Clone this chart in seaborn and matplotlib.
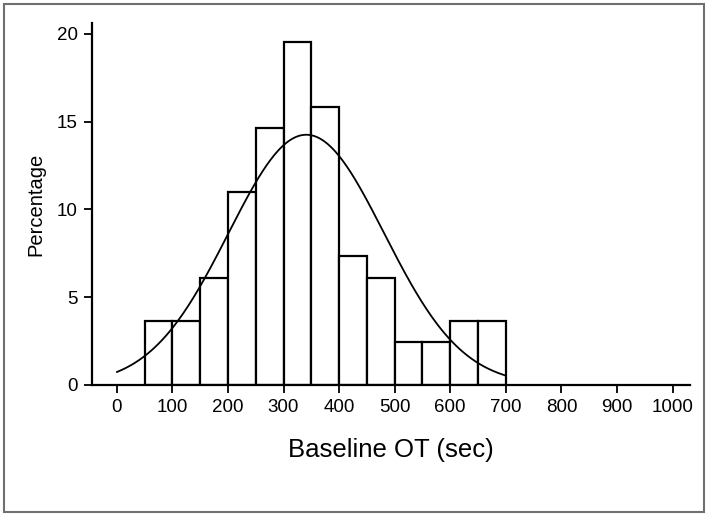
import numpy as np
import pandas as pd
import matplotlib
matplotlib.use("Agg")
import matplotlib.pyplot as plt
import seaborn as sns
from matplotlib.patches import Rectangle

# Histogram data (percentage of subjects per 50-sec bin)
bin_starts = [50, 100, 150, 200, 250, 300, 350, 400, 450, 500, 550, 600, 650]
percentages = [3.66, 3.66, 6.10, 10.98, 14.63, 19.51, 15.85, 7.32, 6.10, 2.44, 2.44, 3.66, 3.66]
bin_width = 50

# Fitted normal curve parameters
fit_mean = 341
fit_sd = 140
curve_range = (0, 700)

x_ticks = [0, 100, 200, 300, 400, 500, 600, 700, 800, 900, 1000]
y_ticks = [0, 5, 10, 15, 20]

sns.set_style("ticks")
plt.rcParams['font.family'] = ['Liberation Sans', 'DejaVu Sans']

fig = plt.figure(figsize=(7.06, 5.16), dpi=100)
ax = fig.add_axes([0.130, 0.254, 0.847, 0.701])

df = pd.DataFrame({"x": np.array(bin_starts) + bin_width / 2, "w": percentages})
sns.histplot(data=df, x="x", weights="w", binwidth=bin_width,
             binrange=(bin_starts[0], bin_starts[-1] + bin_width), stat="count",
             color="white", edgecolor="black", linewidth=1.6, alpha=1, ax=ax)

xs = np.linspace(curve_range[0], curve_range[1], 300)
n_total = sum(percentages)
ys = n_total * bin_width / (fit_sd * np.sqrt(2 * np.pi)) * np.exp(-0.5 * ((xs - fit_mean) / fit_sd) ** 2)
sns.lineplot(x=xs, y=ys, color="black", linewidth=1.3, ax=ax)

ax.set_xlim(-45, 1031)
ax.set_ylim(0, 20.6)
ax.set_xticks(x_ticks)
ax.set_yticks(y_ticks)
ax.tick_params(axis="both", direction="out", length=6, width=1.3, labelsize=13.5,
               colors="black", labelcolor="black", pad=4)
for s in ["top", "right"]:
    ax.spines[s].set_visible(False)
for s in ["left", "bottom"]:
    ax.spines[s].set_linewidth(1.6)
    ax.spines[s].set_color("black")
ax.set_xlabel("Baseline OT (sec)", fontsize=18.5, labelpad=16, color="black")
ax.set_ylabel("Percentage", fontsize=14.5, labelpad=8, color="black")

fig.patches.append(Rectangle((4 / 706, 4 / 516), 700 / 706, 508 / 516, transform=fig.transFigure,
                             fill=False, edgecolor="#707070", linewidth=1.5))

fig.savefig("out.png", dpi=100)
